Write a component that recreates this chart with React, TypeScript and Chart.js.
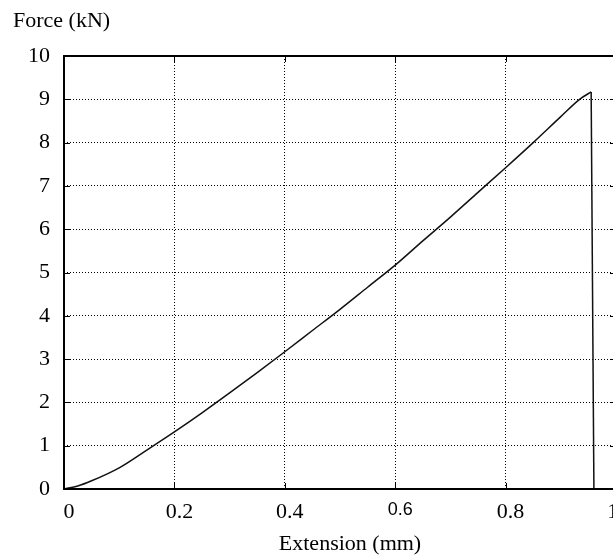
import React, { useEffect, useRef } from "react";
import { Chart, registerables } from "chart.js";

Chart.register(...registerables);

const extension: number[] = [0, 0.025, 0.05, 0.1, 0.15, 0.2, 0.25, 0.3, 0.35, 0.4, 0.45, 0.5, 0.55, 0.6, 0.65, 0.7, 0.75, 0.8, 0.85, 0.9, 0.934, 0.955];
const force: number[] = [0, 0.07, 0.19, 0.49, 0.9, 1.32, 1.76, 2.22, 2.69, 3.17, 3.66, 4.15, 4.66, 5.17, 5.73, 6.28, 6.85, 7.42, 8.0, 8.6, 9.0, 9.17];
const failureExtension: number[] = [0.955, 0.96];
const failureForce: number[] = [9.17, 0];

const xTitle = "Extension (mm)";
const yTitle = "Force (kN)";
const xMin = 0, xMax = 1, xStep = 0.2;
const yMin = 0, yMax = 10, yStep = 1;

const SERIF = "'Liberation Serif', 'Times New Roman', serif";
const SANS = "'Liberation Sans', Arial, sans-serif";

const framePlugin = {
  id: "frame",
  afterDatasetsDraw(chart: any) {
    const { ctx, chartArea } = chart;
    const { left, right, top, bottom } = chartArea;
    ctx.save();
    ctx.strokeStyle = "#000";
    ctx.lineWidth = 1;
    ctx.setLineDash([]);
    const xs = chart.scales.x;
    const ys = chart.scales.y;
    xs.ticks.forEach((t: any) => {
      const px = Math.round(xs.getPixelForValue(t.value)) + 0.5;
      ctx.beginPath();
      ctx.moveTo(px, bottom);
      ctx.lineTo(px, bottom - 6);
      ctx.moveTo(px, top);
      ctx.lineTo(px, top + 6);
      ctx.stroke();
    });
    ys.ticks.forEach((t: any) => {
      const py = Math.round(ys.getPixelForValue(t.value)) + 0.5;
      ctx.beginPath();
      ctx.moveTo(left, py);
      ctx.lineTo(left + 6, py);
      ctx.moveTo(right, py);
      ctx.lineTo(right - 6, py);
      ctx.stroke();
    });
    ctx.lineWidth = 2;
    ctx.strokeRect(left, top, right - left, bottom - top);
    ctx.fillStyle = "#000";
    ctx.font = `22px ${SERIF}`;
    ctx.textAlign = "left";
    ctx.textBaseline = "alphabetic";
    ctx.fillText(yTitle, 13, 27);
    ctx.textAlign = "center";
    ctx.fillText(xTitle, 350, 550);
    ctx.restore();
  },
};

export default function App() {
  const ref = useRef<HTMLCanvasElement | null>(null);
  useEffect(() => {
    if (!ref.current) return;
    const chart = new Chart(ref.current, {
      type: "line",
      data: {
        datasets: [
          {
            data: extension.map((x, i) => ({ x, y: force[i] })),
            borderColor: "#111",
            borderWidth: 1.5,
            pointRadius: 0,
            fill: false,
            cubicInterpolationMode: "monotone",
          },
          {
            data: failureExtension.map((x, i) => ({ x, y: failureForce[i] })),
            borderColor: "#111",
            borderWidth: 1.5,
            pointRadius: 0,
            fill: false,
            tension: 0,
          },
        ],
      },
      options: {
        animation: false,
        responsive: false,
        devicePixelRatio: 1,
        layout: { padding: { top: 56, right: 64, left: 0, bottom: 0 } },
        plugins: { legend: { display: false }, tooltip: { enabled: false } },
        scales: {
          x: {
            type: "linear",
            min: xMin,
            max: xMax,
            afterFit: (s: any) => { s.height = 67; },
            border: { display: false, dash: [1, 2] },
            grid: {
              color: (c: any) => (c.tick && (c.tick.value === xMin || c.tick.value === xMax) ? "rgba(0,0,0,0)" : "#000"),
              lineWidth: 1,
              drawTicks: false,
            },
            ticks: {
              stepSize: xStep,
              padding: 10,
              labelOffset: 5,
              color: "#000",
              maxRotation: 0,
              autoSkip: false,
              font: (c: any) =>
                c.tick && Math.abs(c.tick.value - 0.6) < 1e-6
                  ? { family: SANS, size: 18 }
                  : { family: SERIF, size: 22 },
            },
          },
          y: {
            type: "linear",
            min: yMin,
            max: yMax,
            afterFit: (s: any) => { s.width = 64; },
            border: { display: false, dash: [1, 2] },
            grid: {
              color: (c: any) => (c.tick && (c.tick.value === yMin || c.tick.value === yMax) ? "rgba(0,0,0,0)" : "#000"),
              lineWidth: 1,
              drawTicks: false,
            },
            ticks: {
              stepSize: yStep,
              padding: 14,
              color: "#000",
              font: { family: SERIF, size: 22 },
            },
          },
        },
      } as any,
      plugins: [framePlugin],
    });
    return () => chart.destroy();
  }, []);
  return (
    <div style={{ position: "fixed", left: 0, top: 0, width: 613, height: 556, overflow: "hidden", background: "#fff" }}>
      <canvas ref={ref} width={680} height={556} style={{ width: 680, height: 556, display: "block" }} />
    </div>
  );
}
